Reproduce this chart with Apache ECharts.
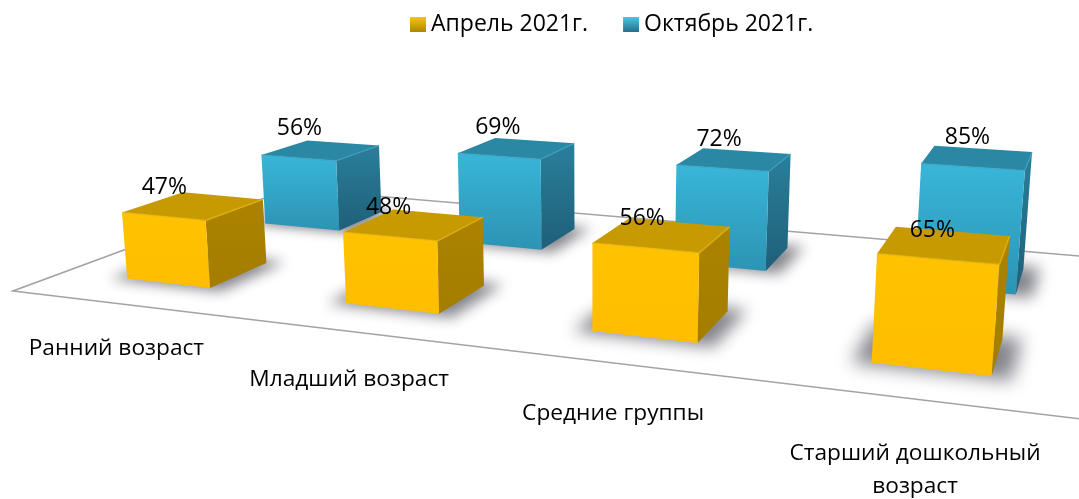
<!DOCTYPE html>
<html>
<head>
<meta charset="utf-8">
<style>
  html, body { margin: 0; padding: 0; background: #fff; }
  #main { width: 1079px; height: 499px; }
</style>
<script src="https://cdn.jsdelivr.net/npm/echarts@6/dist/echarts.min.js"></script>
</head>
<body>
<div id="main"></div>
<script>
const categories = ["Ранний возраст", "Младший возраст", "Средние группы", "Старший дошкольный\nвозраст"];
const seriesNames = ["Апрель 2021г.", "Октябрь 2021г."];
const aprilValues = [47, 48, 56, 65];
const octoberValues = [56, 69, 72, 85];

const FONT = "Open Sans";

// camera: vanishing points of the three world directions, picture of floor corner (0,0,0)
const origin = [13, 291];
const vpWidth = [-3583, -140], vpDepth = [1140, -125], vpUp = [590, 6100];
const kWidth = -0.2298, kDepth = 0.3254, kUp = -0.0246;

function project(u, v, h) {
  const s = u * kWidth, t = v * kDepth, r = h * kUp;
  const w = 1 + s + t + r;
  return [
    (origin[0] + s * vpWidth[0] + t * vpDepth[0] + r * vpUp[0]) / w,
    (origin[1] + s * vpWidth[1] + t * vpDepth[1] + r * vpUp[1]) / w
  ];
}

// hidden cartesian -> unit floor coordinates, so values still go through the axes
function toUnit(params, api, i, value) {
  const cs = params.coordSys;
  const p = api.coord([i, value]);
  return [(p[0] - cs.x) / cs.width, (cs.y + cs.height - p[1]) / cs.height];
}

const palettes = {
  yellow: {
    front: ["#FFC200", "#FFBE00"], side: ["#AC8300", "#A47D00"], top: "#C69A00",
    edge: "rgba(235,185,15,0.7)"
  },
  blue: {
    front: ["#38B6D9", "#2D93B3"], side: ["#2A7F9B", "#1F5F79"], top: "#2A88A5",
    edge: "rgba(60,160,190,0.6)"
  }
};

function vGrad(c) {
  return { type: "linear", x: 0, y: 0, x2: 0, y2: 1,
    colorStops: [{ offset: 0, color: c[0] }, { offset: 1, color: c[1] }] };
}

function cubeRenderer(row, palette) {
  const halfW = 0.049, halfD = 0.1, vc = row === 0 ? 0.25 : 0.75;
  const away = 3000; // shape sits off the canvas, only its blurred shadow lands on the floor
  return function (params, api) {
    const i = api.value(0), value = api.value(1);
    const unit = toUnit(params, api, i, value);
    const uc = unit[0], h = unit[1];
    const l = uc - halfW, r = uc + halfW, f = vc - halfD, b = vc + halfD;
    const fbl = project(l, f, 0), fbr = project(r, f, 0), bbr = project(r, b, 0);
    const ftl = project(l, f, h), ftr = project(r, f, h), btr = project(r, b, h), btl = project(l, b, h);
    const labelAt = project(uc, f, h);
    const size = fbr[0] - fbl[0];
    const shadow = [
      project(l - 0.016, f - 0.012, 0), project(r + 0.016, f - 0.012, 0),
      project(r + 0.016, b + 0.02, 0), project(l - 0.016, b + 0.02, 0)
    ].map((p) => [p[0] - away, p[1]]);
    return {
      type: "group",
      children: [
        { type: "polygon", shape: { points: shadow }, silent: true,
          style: { fill: "#000", shadowBlur: size * 0.15, shadowOffsetX: away, shadowColor: "rgba(125,125,135,0.95)" } },
        { type: "polygon", shape: { points: [ftr, fbr, bbr, btr] },
          style: { fill: vGrad(palette.side) } },
        { type: "polygon", shape: { points: [ftl, fbl, fbr, ftr] },
          style: { fill: vGrad(palette.front) } },
        { type: "polygon", shape: { points: [ftl, ftr, btr, btl] },
          style: { fill: palette.top } },
        { type: "polyline", shape: { points: [ftl, ftr, btr] },
          style: { fill: null, stroke: palette.edge, lineWidth: 1.5 } },
        { type: "text", x: labelAt[0] + 2 - 8 * uc, y: labelAt[1] - 29,
          style: { text: value + "%", fill: "#000", font: "23px '" + FONT + "'", align: "center", verticalAlign: "middle" } }
      ]
    };
  };
}

function floorRenderer() {
  return {
    type: "polygon",
    shape: { points: [project(0, 0, 0), project(1, 0, 0), project(1, 1, 0), project(0, 1, 0)] },
    style: { fill: null, stroke: "#A3A3A3", lineWidth: 1.5 }
  };
}

function categoryLabelRenderer(params, api) {
  const i = api.value(0);
  const unit = toUnit(params, api, i, 0);
  const p = project(unit[0], 0, 0);
  const w = 1 + unit[0] * kWidth;
  return {
    type: "text", x: p[0] - 3, y: p[1] + 43 / w - 16,
    style: { text: categories[i], fill: "#000", font: "22.7px '" + FONT + "'", lineHeight: 33, align: "center", verticalAlign: "top" }
  };
}

const pairs = (values) => values.map((v, i) => [i, v]);

const myChart = echarts.init(document.getElementById("main"));
const option = {
  animation: false,
  legend: {
    left: 410, top: 13, padding: 0, itemWidth: 16, itemHeight: 15, itemGap: 35,
    textStyle: { fontFamily: FONT, fontSize: 23, color: "#000", padding: [0, 0, 0, 0] },
    data: [
      { name: seriesNames[0], icon: "rect", itemStyle: { color: vGrad(["#F5C518", "#B08600"]) } },
      { name: seriesNames[1], icon: "rect", itemStyle: { color: vGrad(["#4CC4E4", "#256F8B"]) } }
    ]
  },
  grid: { left: 0, right: 0, top: 0, bottom: 0 },
  xAxis: { type: "category", data: categories, show: false },
  yAxis: { type: "value", min: 0, max: 100, show: false },
  series: [
    { type: "custom", name: "floor", silent: true, z: 1, renderItem: floorRenderer, data: [[0, 0]] },
    { type: "custom", name: seriesNames[1], z: 2, renderItem: cubeRenderer(1, palettes.blue), data: pairs(octoberValues),
      itemStyle: { color: "#2F9CBC" } },
    { type: "custom", name: seriesNames[0], z: 3, renderItem: cubeRenderer(0, palettes.yellow), data: pairs(aprilValues),
      itemStyle: { color: "#FFC000" } },
    { type: "custom", name: "labels", silent: true, z: 4, renderItem: categoryLabelRenderer, data: categories.map((c, i) => [i, 0]) }
  ]
};
option && myChart.setOption(option);
</script>
</body>
</html>
